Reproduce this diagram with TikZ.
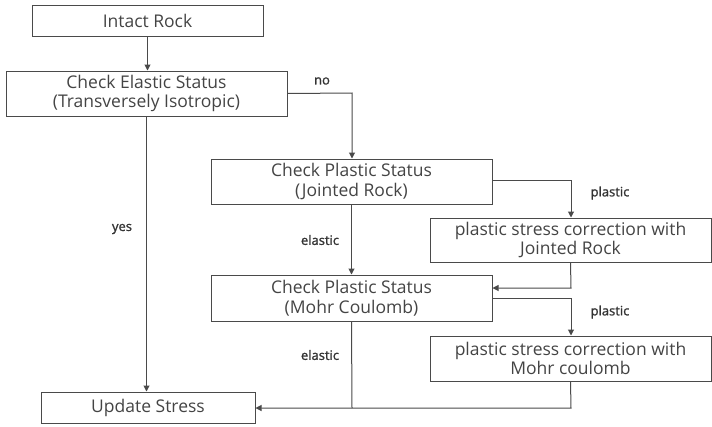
\documentclass[tikz,border=0pt]{standalone}
\usepackage{fontspec}
\setmainfont{Open Sans}
\newfontfamily\lblfont[FakeBold=1.2]{Open Sans}
\usetikzlibrary{arrows.meta}
\definecolor{ln}{HTML}{4A4A4A}
\definecolor{tx}{HTML}{444444}
\definecolor{lt}{HTML}{333333}
\begin{document}
\begin{tikzpicture}[x=1pt,y=-1pt,
  box/.style={draw=ln,line width=1pt,inner sep=0pt,align=center,text=tx,font=\fontsize{17.5}{19.5}\selectfont},
  lbl/.style={text=lt,font=\lblfont\fontsize{13}{14}\selectfont,inner sep=0pt},
  conn/.style={draw=ln,line width=1pt},
  arr/.style={conn,-{Triangle[length=6pt,width=6pt]}}]
\useasboundingbox (0,0) rectangle (712,426);
\node[box,minimum width=231pt,minimum height=31pt] (intact) at (147.5,20.5) {Intact Rock};
\node[box,minimum width=281pt,minimum height=45pt] (elastic) at (146.5,93.5) {Check Elastic Status\\(Transversely Isotropic)};
\node[box,minimum width=281pt,minimum height=45pt] (joint) at (351.5,181.5) {Check Plastic Status\\(Jointed Rock)};
\node[box,minimum width=281pt,minimum height=44pt] (corrj) at (570.5,240) {plastic stress correction with\\Jointed Rock};
\node[box,minimum width=281pt,minimum height=46pt] (mohr) at (351.5,298) {Check Plastic Status\\(Mohr Coulomb)};
\node[box,minimum width=281pt,minimum height=45pt] (corrm) at (570.5,358.5) {plastic stress correction with\\Mohr coulomb};
\node[box,minimum width=214pt,minimum height=31pt] (update) at (148,407.5) {Update Stress};
\node[lbl] (lno) at (322,81) {no};
\node[lbl] (lyes) at (122,229) {yes};
\node[lbl] (lel1) at (320,240) {elastic};
\node[lbl] (lel2) at (320,355) {elastic};
\node[lbl] (lpl1) at (610,193) {plastic};
\node[lbl] (lpl2) at (610,312) {plastic};
\coordinate (c1) at (352,93);
\coordinate (c2) at (571,180);
\coordinate (c3) at (571,288);
\coordinate (c4) at (571,298);
\coordinate (c5) at (571,408);
\coordinate (c6) at (352,408);
\draw[arr] (intact.south) -- (intact.south |- elastic.north);
\draw[arr] (elastic.east) -- (c1) -- (c1 |- joint.north);
\draw[arr] (elastic.south) -- (elastic.south |- update.north);
\draw[arr] (joint.east |- c2) -- (c2) -- (c2 |- corrj.north);
\draw[arr] (joint.south) -- (joint.south |- mohr.north);
\draw[arr] (corrj.south) -- (c3) -- (c3 -| mohr.east);
\draw[arr] (mohr.east |- c4) -- (c4) -- (c4 |- corrm.north);
\draw[arr] (corrm.south) -- (c5) -- (c5 -| update.east);
\draw[conn] (mohr.south) -- (c6);
\end{tikzpicture}
\end{document}
